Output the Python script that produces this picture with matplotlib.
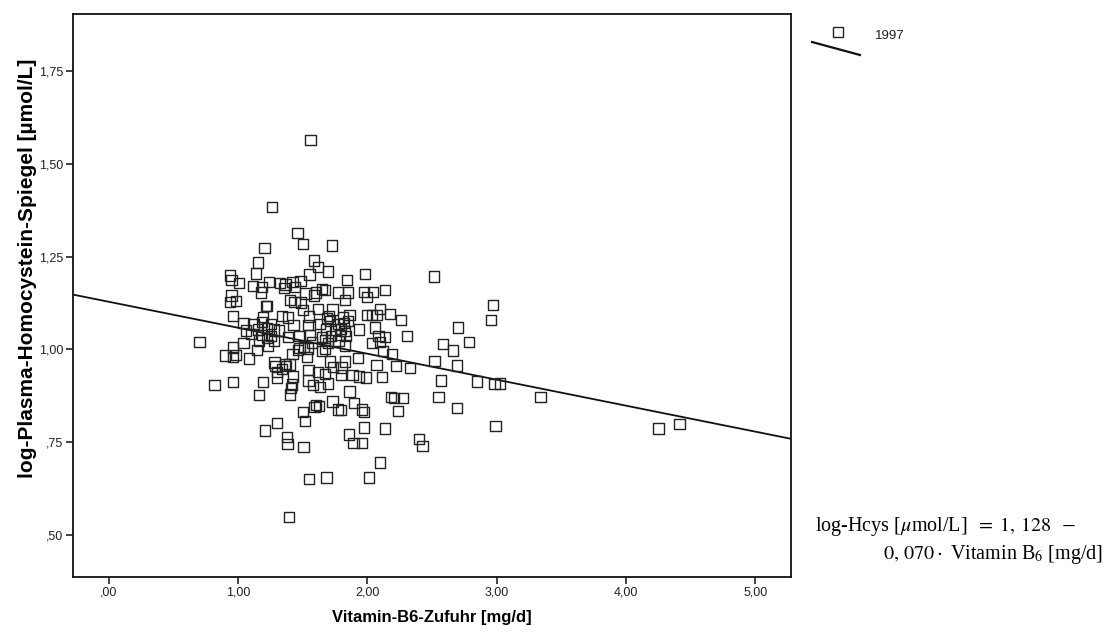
import numpy as np
import matplotlib
matplotlib.use("Agg")
import matplotlib.pyplot as plt
from matplotlib.lines import Line2D

# Vitamin-B6 intake [mg/d] and log plasma homocysteine [µmol/L], survey 1997
vit_b6 = [
    1.559, 1.261, 1.460, 1.499, 1.726, 1.204, 1.584, 1.154, 1.616, 1.697,
    1.982, 1.136, 0.938, 1.552, 2.514, 0.948, 1.843, 1.005, 1.236, 1.321,
    1.420, 1.481, 1.112, 1.367, 1.183, 1.353, 1.438, 1.651, 1.673, 2.138,
    2.042, 1.974, 1.772, 1.847, 1.175, 1.602, 1.520, 1.996, 0.948, 1.587,
    0.934, 0.984, 1.403, 1.435, 1.488, 1.829, 2.972, 1.225, 1.215, 1.616,
    1.729, 2.095, 1.502, 0.959, 1.190, 1.339, 1.385, 1.548, 1.687, 1.705,
    1.811, 1.861, 1.999, 2.035, 2.070, 2.173, 2.262, 2.958, 1.040, 1.119,
    1.183, 1.254, 1.428, 1.538, 1.634, 1.712, 1.776, 1.818, 1.847, 2.699,
    1.058, 1.154, 1.225, 1.278, 1.314, 1.680, 1.747, 1.793, 1.935, 2.060,
    1.829, 1.101, 1.183, 1.254, 1.385, 1.474, 1.552, 1.651, 1.719, 1.790,
    1.832, 2.085, 2.134, 2.305, 1.225, 1.278, 1.669, 1.776, 2.095, 0.700,
    2.788, 2.582, 1.040, 1.161, 1.570, 1.697, 2.035, 1.829, 1.232, 1.509,
    1.474, 1.538, 1.673, 0.959, 1.147, 2.660, 1.651, 2.120, 1.463, 0.898,
    0.984, 0.959, 2.191, 1.083, 1.420, 1.530, 1.928, 2.518, 1.708, 1.829,
    1.282, 1.360, 1.396, 2.070, 2.219, 2.692, 1.289, 1.367, 1.733, 1.800,
    2.330, 1.339, 1.545, 1.303, 1.616, 1.673, 1.793, 1.885, 1.935, 1.989,
    2.113, 1.303, 1.424, 1.545, 2.568, 2.848, 2.983, 3.026, 0.959, 1.190,
    1.694, 1.417, 0.817, 1.580, 1.634, 1.410, 1.861, 1.403, 1.161, 2.184,
    2.205, 2.276, 2.550, 3.338, 1.729, 1.896, 1.602, 1.626, 1.591, 1.772,
    1.793, 1.957, 1.974, 2.234, 2.692, 1.499, 1.516, 1.303, 2.990, 1.207,
    1.974, 2.134, 4.251, 4.414, 1.857, 1.378, 2.397, 2.425, 1.381, 1.506,
    1.893, 1.960, 2.099, 1.548, 1.683, 2.014, 1.392,
]
log_hcys = [
    1.565, 1.383, 1.314, 1.283, 1.280, 1.274, 1.239, 1.234, 1.221, 1.210,
    1.203, 1.204, 1.199, 1.202, 1.196, 1.187, 1.186, 1.178, 1.181, 1.178,
    1.181, 1.184, 1.171, 1.175, 1.168, 1.165, 1.167, 1.163, 1.160, 1.160,
    1.155, 1.155, 1.153, 1.153, 1.153, 1.153, 1.150, 1.141, 1.145, 1.145,
    1.127, 1.130, 1.132, 1.127, 1.126, 1.132, 1.120, 1.117, 1.116, 1.109,
    1.107, 1.109, 1.106, 1.090, 1.087, 1.090, 1.086, 1.088, 1.084, 1.089,
    1.086, 1.092, 1.092, 1.092, 1.092, 1.095, 1.079, 1.078, 1.071, 1.069,
    1.073, 1.069, 1.066, 1.066, 1.069, 1.076, 1.069, 1.071, 1.076, 1.059,
    1.051, 1.053, 1.056, 1.053, 1.051, 1.053, 1.053, 1.055, 1.053, 1.059,
    1.049, 1.041, 1.039, 1.036, 1.033, 1.036, 1.039, 1.033, 1.036, 1.039,
    1.036, 1.036, 1.033, 1.035, 1.031, 1.022, 1.025, 1.022, 1.020, 1.019,
    1.020, 1.014, 1.017, 1.024, 1.018, 1.016, 1.016, 1.010, 1.010, 1.006,
    1.004, 1.002, 1.002, 1.005, 0.998, 0.997, 0.995, 0.995, 0.998, 0.983,
    0.985, 0.980, 0.988, 0.975, 0.988, 0.980, 0.977, 0.968, 0.967, 0.967,
    0.964, 0.961, 0.959, 0.957, 0.954, 0.956, 0.954, 0.954, 0.952, 0.951,
    0.949, 0.947, 0.945, 0.939, 0.939, 0.934, 0.931, 0.931, 0.927, 0.924,
    0.926, 0.924, 0.927, 0.916, 0.916, 0.913, 0.906, 0.908, 0.911, 0.912,
    0.908, 0.905, 0.903, 0.903, 0.898, 0.895, 0.886, 0.878, 0.876, 0.871,
    0.868, 0.868, 0.871, 0.871, 0.859, 0.855, 0.849, 0.847, 0.844, 0.838,
    0.836, 0.838, 0.831, 0.833, 0.842, 0.830, 0.807, 0.801, 0.793, 0.781,
    0.789, 0.786, 0.786, 0.799, 0.770, 0.764, 0.758, 0.740, 0.745, 0.737,
    0.747, 0.747, 0.695, 0.651, 0.654, 0.654, 0.547,
]

# Linear fit: log-Hcys = intercept + slope * Vitamin B6
intercept = 1.128
slope = -0.070

x_ticks = [0, 1, 2, 3, 4, 5]
x_tick_labels = [",00", "1,00", "2,00", "3,00", "4,00", "5,00"]
y_ticks = [0.50, 0.75, 1.00, 1.25, 1.50, 1.75]
y_tick_labels = [",50", ",75", "1,00", "1,25", "1,50", "1,75"]

series_label = "1997"
x_label = "Vitamin-B6-Zufuhr [mg/d]"
y_label = "log-Plasma-Homocystein-Spiegel [µmol/L]"

plt.rcParams["font.family"] = ["Liberation Sans", "DejaVu Sans"]
plt.rcParams["mathtext.fontset"] = "stix"

W, H = 1110, 639
fig = plt.figure(figsize=(W / 100, H / 100), dpi=100)
ax = fig.add_axes([73 / W, 1 - 577 / H, (791 - 73) / W, (577 - 14) / H])

xlim = (-0.278, 5.277)
ylim = (0.386, 1.904)

ax.scatter(vit_b6, log_hcys, marker="s", s=55, facecolors="none",
           edgecolors="#222222", linewidths=1.0, zorder=3)

xs = np.array(xlim)
ax.plot(xs, intercept + slope * xs, color="#111111", lw=1.3, zorder=2)

ax.set_xlim(*xlim)
ax.set_ylim(*ylim)
ax.set_xticks(x_ticks)
ax.set_xticklabels(x_tick_labels)
ax.set_yticks(y_ticks)
ax.set_yticklabels(y_tick_labels)
ax.tick_params(axis="both", direction="out", length=5, width=1.2,
               labelsize=9, colors="#222222", pad=2)

for sp in ax.spines.values():
    sp.set_linewidth(1.3)
    sp.set_color("#111111")

ax.set_xlabel(x_label, fontsize=12, fontweight="bold", labelpad=8)
ax.set_ylabel(y_label, fontsize=15, fontweight="bold")
ax.yaxis.set_label_coords(-0.050, 0.548)

# Legend entry: marker with a slanted fit-line icon
fig.add_artist(Line2D([838 / W], [1 - 32 / H], marker="s", markersize=7.5,
                      markerfacecolor="none", markeredgecolor="#222222",
                      markeredgewidth=1.0, linestyle="none",
                      transform=fig.transFigure))
fig.add_artist(Line2D([812 / W, 860 / W], [1 - 42 / H, 1 - 55 / H],
                      color="#111111", lw=1.6, transform=fig.transFigure))
fig.text(875 / W, 1 - 36 / H, series_label, fontsize=9.5, color="#222222",
         va="center", ha="left")

# Regression equation
serif = ["Liberation Serif", "DejaVu Serif"]
fig.text(815 / W, 1 - 527 / H,
         r"log-Hcys [$\mu$mol/L] $\;=\;1,\,128\;\;-$",
         fontsize=14.5, family=serif, va="center", ha="left")
fig.text(1103 / W, 1 - 555 / H,
         r"$0,\,070 \cdot$ Vitamin B$_6$ [mg/d]",
         fontsize=14.5, family=serif, va="center", ha="right")

fig.savefig("out.png", dpi=100)
